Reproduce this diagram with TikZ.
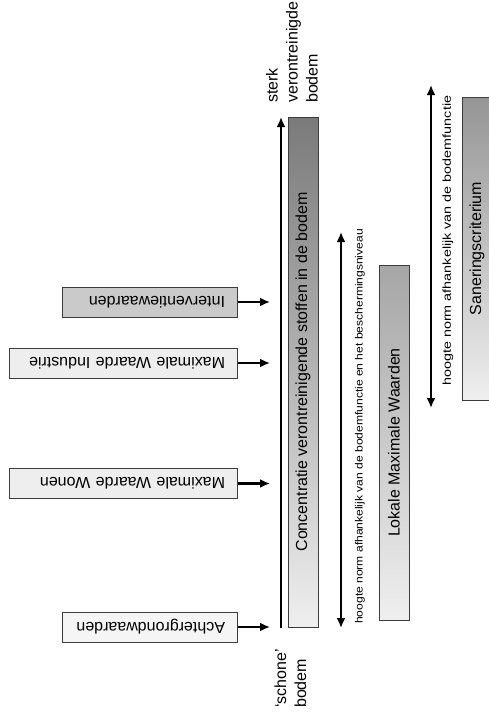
\documentclass[tikz,border=0pt]{standalone}
\usepackage{fontspec}
\setmainfont{Liberation Sans}
\usepackage{graphicx}
\usepackage{tikz}
\usetikzlibrary{positioning}
\usetikzlibrary{arrows.meta}

\definecolor{rand}{HTML}{3C3C3C}
\definecolor{ivgrijs}{HTML}{CACACA}
\definecolor{lichtgrijs}{HTML}{EEEEEE}
\definecolor{zeerlicht}{HTML}{F5F5F5}
\definecolor{donker}{HTML}{7A7A7A}
\definecolor{midden}{HTML}{A6A6A6}
\definecolor{licht}{HTML}{EFEFEF}

\begin{document}
\begin{tikzpicture}[x=1pt,y=-1pt,
 lbox/.style={draw=rand,line width=1pt,minimum height=30pt,inner xsep=12pt,inner ysep=0pt,align=right,font=\fontsize{16}{19}\selectfont},
 bar/.style={draw=rand,line width=1pt,minimum width=30pt,inner sep=0pt,font=\fontsize{16}{19}\selectfont},
 pijl/.style={line width=2.5pt,-{Latex[length=10pt,width=9pt]}},
 dpijl/.style={line width=2.5pt,{Latex[length=10pt,width=9pt]}-{Latex[length=10pt,width=9pt]}},
 klein/.style={rotate=90,anchor=west,inner sep=0pt,font=\fontsize{10.5}{12}\selectfont},
 eind/.style={rotate=90,anchor=west,inner sep=0pt,align=left,font=\fontsize{16}{20}\selectfont}]
 \useasboundingbox (0,0) rectangle (489,717);
 \node[lbox,fill=ivgrijs,text width=151pt] (interv) at (149.5,302) {\rotatebox{180}{Interventiewaarden}};
 \node[lbox,fill=lichtgrijs,text width=204pt] (industrie) at (123,363) {\rotatebox{180}{Maximale Waarde Industrie}};
 \node[lbox,fill=lichtgrijs,text width=204pt] (wonen) at (123,483.5) {\rotatebox{180}{Maximale Waarde Wonen}};
 \node[lbox,fill=zeerlicht,text width=151pt] (achter) at (149.5,627) {\rotatebox{180}{Achtergrondwaarden}};
 \coordinate (t1) at (270,302);
 \coordinate (t2) at (270,363);
 \coordinate (t3) at (270,483.5);
 \coordinate (t4) at (270,627);
 \draw[pijl] (interv) -- (t1);
 \draw[pijl] (industrie) -- (t2);
 \draw[pijl] (wonen) -- (t3);
 \draw[pijl] (achter) -- (t4);
 \coordinate (schoon) at (281,628);
 \coordinate (sterk) at (281,117);
 \draw[pijl,line width=2pt] (schoon) -- (sterk);
 \node[eind] (tekststerk) at (292,103) {sterk\\verontreinigde\\bodem};
 \node[eind] (tekstschoon) at (290.5,708) {`schone'\\bodem};
 \node[bar,minimum height=510pt,top color=donker,bottom color=licht] (conc) at (303,372) {\rotatebox{90}{Concentratie verontreinigende stoffen in de bodem}};
 \coordinate (b1o) at (341,628);
 \coordinate (b1b) at (341,232);
 \draw[dpijl] (b1o) -- (b1b);
 \node[klein] (norm1) at (360,624) {\scalebox{1.15}[1]{hoogte norm afhankelijk van de bodemfunctie en het beschermingsniveau}};
 \node[bar,minimum height=355pt,top color=midden,bottom color=licht] (lmw) at (394,442.5) {\rotatebox{90}{Lokale Maximale Waarden}};
 \coordinate (b2o) at (431,408);
 \coordinate (b2b) at (431,85);
 \draw[dpijl] (b2o) -- (b2b);
 \node[klein,font=\fontsize{11.5}{13}\selectfont] (norm2) at (448,386) {\scalebox{1.25}[1]{hoogte norm afhankelijk van de bodemfunctie}};
 \node[bar,minimum height=303pt,top color=donker!80!white,bottom color=licht] (sanering) at (477,248.5) {\rotatebox{90}{Saneringscriterium}};
\end{tikzpicture}
\end{document}
